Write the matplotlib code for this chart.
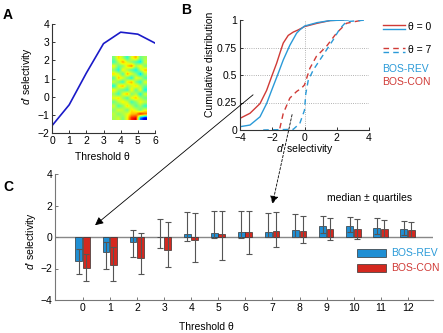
import numpy as np
import matplotlib
matplotlib.use("Agg")
import matplotlib.pyplot as plt
from matplotlib.patches import Rectangle, ConnectionPatch

plt.rcParams["font.family"] = ["Liberation Sans", "DejaVu Sans"]
plt.rcParams["mathtext.fontset"] = "custom"
plt.rcParams["mathtext.it"] = "Liberation Sans:italic"
plt.rcParams["mathtext.rm"] = "Liberation Sans"
plt.rcParams["font.size"] = 7

## data
# panel A: d' vs threshold
thr_a = [0, 1, 2, 3, 4, 5, 6]
dprime_a = [-1.6, -0.45, 1.3, 2.92, 3.55, 3.44, 2.95]

# inset image (hand read, jet colours)
inset = np.array([
    [.50, .68, .56, .40, .62, .72, .48, .55],
    [.42, .58, .74, .60, .52, .44, .34, .60],
    [.64, .48, .52, .68, .76, .56, .66, .50],
    [.52, .38, .66, .56, .46, .36, .58, .70],
    [.68, .60, .44, .72, .62, .52, .32, .56],
    [.46, .70, .62, .48, .38, .64, .60, .44],
    [.60, .50, .40, .66, .72, .50, .40, .62],
    [.38, .64, .72, .54, .60, .68, .56, .48],
    [.66, .54, .48, .42, .66, .46, .64, .36],
    [.54, .42, .62, .72, .50, .58, .38, .60],
    [.62, .68, .54, .44, .64, .70, .56, .48],
    [.48, .58, .66, .60, .42, .52, .64, .58],
    [.60, .44, .52, .68, .58, .46, .54, .40],
    [.52, .62, .58, .48, .66, .60, .48, .62],
    [.58, .50, .56, .62, .70, .72, .88, .80],
    [.55, .60, .50, .64, .88, .92, .25, .08],
])

# panel B: cumulative distributions
rev0_x = [-4, -3.38, -2.76, -2.35, -2.04, -1.63, -1.32, -0.91, -0.49, -0.29, 0, 0.78, 1.6, 2.7]
rev0_y = [0.03, 0.045, 0.12, 0.24, 0.36, 0.515, 0.636, 0.77, 0.88, 0.91, 0.945, 0.976, 0.995, 1.0]
con0_x = [-4, -3.38, -2.76, -2.35, -2.04, -1.73, -1.53, -1.32, -1.01, -0.70, -0.39, 0, 0.78, 1.6, 2.4]
con0_y = [0.106, 0.152, 0.24, 0.36, 0.485, 0.606, 0.697, 0.79, 0.86, 0.89, 0.91, 0.94, 0.97, 0.995, 1.0]
rev7_x = [-2.56, -0.7, -0.29, 0, 0.08, 0.23, 0.54, 0.95, 1.36, 1.77, 2.19, 2.6, 3.84]
rev7_y = [0, 0.006, 0.06, 0.18, 0.33, 0.45, 0.545, 0.636, 0.727, 0.818, 0.92, 0.985, 1.0]
con7_x = [-1.53, -1.32, -0.91, -0.49, -0.19, 0, 0.33, 0.74, 1.36, 1.98, 2.6, 3.63]
con7_y = [0.015, 0.15, 0.29, 0.35, 0.38, 0.41, 0.56, 0.67, 0.76, 0.88, 0.97, 1.0]
grid_y = [0.25, 0.5, 0.75]

# panel C: median and quartiles per threshold
thr_c = list(range(13))
rev_med = [-1.53, -0.93, -0.30, 0.02, 0.22, 0.28, 0.30, 0.32, 0.47, 0.72, 0.70, 0.59, 0.49]
rev_lo = [-2.37, -2.00, -1.30, -0.72, -0.28, -0.06, -0.05, -0.02, 0.00, 0.25, 0.30, 0.20, 0.10]
rev_hi = [-0.77, -0.30, 0.43, 1.13, 1.56, 1.64, 1.64, 1.51, 1.45, 1.36, 1.25, 1.19, 1.02]
con_med = [-1.94, -1.75, -1.32, -0.80, -0.22, 0.22, 0.34, 0.38, 0.41, 0.53, 0.53, 0.49, 0.45]
con_lo = [-2.80, -2.78, -2.37, -1.93, -1.60, -1.45, -1.06, -0.66, -0.36, -0.19, -0.13, 0.00, -0.02]
con_hi = [-1.10, -0.63, 0.23, 0.94, 1.50, 1.68, 1.68, 1.56, 1.36, 1.21, 1.17, 1.08, 0.96]

c_blue = "#1f8fd4"
c_red = "#d4281f"
c_blue_l = "#2a9ad8"
c_red_l = "#d03a36"

fig = plt.figure(figsize=(4.43, 3.33), dpi=100)

def style(ax, col="#333333"):
    for s in ["top", "right"]:
        ax.spines[s].set_visible(False)
    for s in ["left", "bottom"]:
        ax.spines[s].set_color(col)
        ax.spines[s].set_linewidth(0.8)
    ax.tick_params(direction="in", length=2.5, width=0.7, color=col, labelsize=7.5, pad=2)

## A
axA = fig.add_axes([52/443, 1-133/333, 103/443, 109/333])
axA.plot(thr_a, dprime_a, color="#1a1ac8", lw=1.2)
axA.set_xlim(0, 6)
axA.set_ylim(-2, 4)
axA.set_xticks(range(7))
axA.set_yticks(range(-2, 5))
style(axA)
axA.set_xlabel("Threshold θ", fontsize=7.5)
axA.xaxis.set_label_coords(0.49, -0.175)
axA.set_ylabel("$d$' selectivity", fontsize=7.5)
axA.yaxis.set_label_coords(-0.17, 0.52)

axI = fig.add_axes([112/443, 1-120/333, 35/443, 64/333])
axI.imshow(inset, cmap="jet", vmin=0, vmax=1, aspect="auto", interpolation="bilinear")
axI.axis("off")

## B
axB = fig.add_axes([240/443, 1-130/333, 129/443, 110/333])
for g in grid_y:
    axB.axhline(g, color="#999999", lw=0.6, ls=":", zorder=0)
axB.axvline(0, color="#999999", lw=0.6, ls=":", zorder=0)
axB.plot(con0_x, con0_y, color=c_red_l, lw=1.0)
axB.plot(rev0_x, rev0_y, color=c_blue_l, lw=1.0)
axB.plot(con7_x, con7_y, color=c_red_l, lw=1.0, ls=(0, (4, 3)))
axB.plot(rev7_x, rev7_y, color=c_blue_l, lw=1.0, ls=(0, (4, 3)))
axB.set_xlim(-4, 4)
axB.set_ylim(0, 1)
axB.set_xticks([-4, -2, 0, 2, 4])
axB.set_yticks([0, 0.25, 0.5, 0.75, 1])
axB.set_yticklabels(["0", "0.25", "0.5", "0.75", "1"])
style(axB)
axB.set_xlabel("$d$' selectivity", fontsize=7.5)
axB.xaxis.set_label_coords(0.5, -0.11)
axB.set_ylabel("Cumulative distribution", fontsize=7.5)
axB.yaxis.set_label_coords(-0.19, 0.6)

# legend of B
axB.plot([1.109, 1.279], [0.955, 0.955], color=c_red_l, lw=1.0, transform=axB.transAxes, clip_on=False)
axB.plot([1.109, 1.279], [0.918, 0.918], color=c_blue_l, lw=1.0, transform=axB.transAxes, clip_on=False)
axB.plot([1.109, 1.279], [0.748, 0.748], color=c_red_l, lw=1.0, ls=(0, (4, 3)), transform=axB.transAxes, clip_on=False)
axB.plot([1.109, 1.279], [0.713, 0.713], color=c_blue_l, lw=1.0, ls=(0, (4, 3)), transform=axB.transAxes, clip_on=False)
axB.text(1.30, 0.935, "θ = 0", fontsize=7.5, va="center", transform=axB.transAxes)
axB.text(1.30, 0.73, "θ = 7", fontsize=7.5, va="center", transform=axB.transAxes)
axB.text(1.105, 0.555, "BOS-REV", fontsize=7.5, va="center", color=c_blue_l, transform=axB.transAxes)
axB.text(1.105, 0.436, "BOS-CON", fontsize=7.5, va="center", color=c_red_l, transform=axB.transAxes)

## C
axC = fig.add_axes([55/443, 1-300/333, 378/443, 126/333])
x = np.array(thr_c)
w = 0.25
axC.axhline(0, color="#888888", lw=1.0, zorder=1)
axC.bar(x-0.15, rev_med, width=w, color=c_blue, edgecolor="#333333", lw=0.5, zorder=2)
axC.bar(x+0.13, con_med, width=w, color=c_red, edgecolor="#333333", lw=0.5, zorder=2)
med = np.array(rev_med)
axC.errorbar(x-0.15, med, yerr=[med-np.array(rev_lo), np.array(rev_hi)-med], fmt="none",
             ecolor="#555555", elinewidth=0.8, capsize=2.5, capthick=0.8, zorder=3)
med = np.array(con_med)
axC.errorbar(x+0.13, med, yerr=[med-np.array(con_lo), np.array(con_hi)-med], fmt="none",
             ecolor="#555555", elinewidth=0.8, capsize=2.5, capthick=0.8, zorder=3)
axC.set_xlim(-1.03, 12.93)
axC.set_ylim(-4, 4)
axC.set_xticks(thr_c)
axC.set_yticks([-4, -2, 0, 2, 4])
style(axC, col="#777777")
axC.set_xlabel("Threshold θ", fontsize=7.5)
axC.xaxis.set_label_coords(0.40, -0.175)
axC.set_ylabel("$d$' selectivity", fontsize=7.5)
axC.yaxis.set_label_coords(-0.045, 0.47)
axC.text(0.72, 0.81, "median ± quartiles", fontsize=7.5, va="center", transform=axC.transAxes)

axC.add_patch(Rectangle((0.799, 0.342), 0.077, 0.063, transform=axC.transAxes, facecolor=c_blue,
                        edgecolor="#333333", lw=0.5, clip_on=False))
axC.add_patch(Rectangle((0.799, 0.223), 0.077, 0.063, transform=axC.transAxes, facecolor=c_red,
                        edgecolor="#333333", lw=0.5, clip_on=False))
axC.text(0.889, 0.373, "BOS-REV", fontsize=7.5, va="center", color=c_blue_l, transform=axC.transAxes)
axC.text(0.889, 0.254, "BOS-CON", fontsize=7.5, va="center", color=c_red_l, transform=axC.transAxes)

## arrows from B to C
con = ConnectionPatch(xyA=(-3.19, 0.32), coordsA=axB.transData, xyB=(0.45, 0.75), coordsB=axC.transData,
                      arrowstyle="-|>", mutation_scale=12, lw=0.6, color="k")
fig.add_artist(con)
con2 = ConnectionPatch(xyA=(-0.77, 0.14), coordsA=axB.transData, xyB=(7.0, 2.1), coordsB=axC.transData,
                       arrowstyle="-|>", mutation_scale=12, lw=0.6, color="k", ls=(0, (3, 2)))
fig.add_artist(con2)

## panel letters
fig.text(8/443, 1-15/333, "A", fontsize=10, fontweight="bold", ha="center", va="center")
fig.text(186/443, 1-10/333, "B", fontsize=10, fontweight="bold", ha="center", va="center")
fig.text(8/443, 1-187/333, "C", fontsize=10, fontweight="bold", ha="center", va="center")

fig.savefig("out.png", dpi=100)
